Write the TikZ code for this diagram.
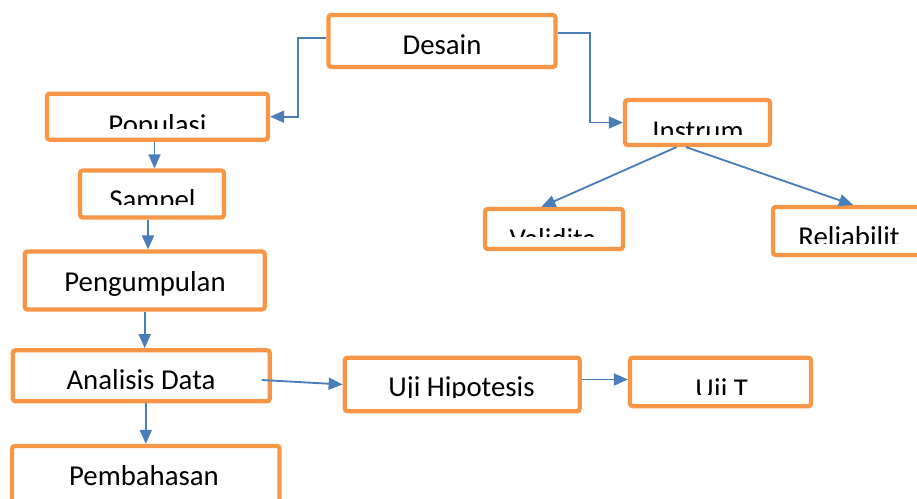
\documentclass[tikz,border=0pt]{standalone}
\usepackage{fontspec}
\setmainfont{Carlito}
\usetikzlibrary{arrows.meta}

\begin{document}
\begin{tikzpicture}[x=0.02cm, y=-0.02cm,
  box/.style={draw=colorBox, line width=2.4pt, rounded corners=1.5pt, fill=white},
  lbl/.style={font=\fontsize{16.4}{19}\selectfont, inner sep=0pt, anchor=base},
  arr/.style={draw=colorArrow, line width=1.05pt, -{Triangle[length=0.28cm,width=0.24cm]}}
    ]
    % Colori
    \definecolor{colorBox}{RGB}{247, 150, 70}
    \definecolor{colorArrow}{RGB}{74, 126, 187}

    \useasboundingbox (0,0) rectangle (917,499);

    % Blocchi
    \node[box, minimum width=4.54cm, minimum height=1.04cm] (desain) at (442,41) {};
    \node[lbl] (tdesain) at (442,55) {Desain};

    \node[box, minimum width=4.42cm, minimum height=0.92cm] (populasi) at (157.5,116.7) {};
    \node[box, minimum width=2.88cm, minimum height=0.94cm] (sampel) at (152,194) {};
    \node[box, minimum width=4.80cm, minimum height=1.16cm] (pengumpulan) at (144.7,280.5) {};
    \node[lbl] (tpengumpulan) at (145,291.7) {Pengumpulan};
    \node[box, minimum width=5.14cm, minimum height=1.02cm] (analisis) at (141.2,375.8) {};
    \node[lbl] (tanalisis) at (141,389.3) {Analisis Data};
    \node[box, minimum width=5.35cm, minimum height=1.28cm] (pembahasan) at (145.8,478) {};
    \node[lbl] (tpembahasan) at (144,486) {Pembahasan};

    \node[box, minimum width=4.70cm, minimum height=1.07cm] (ujihipo) at (462.2,384.5) {};
    \node[box, minimum width=3.62cm, minimum height=0.97cm] (ujit) at (720.5,382) {};

    \node[box, minimum width=2.90cm, minimum height=0.90cm] (instrum) at (697.5,122.5) {};
    \node[box, minimum width=2.76cm, minimum height=0.80cm] (validita) at (554,229) {};
    \node[box, minimum width=3.04cm, minimum height=0.96cm] (reliabilit) at (849,231) {};

    % Testi tagliati
    \begin{scope}
      \clip (47,94) rectangle (268,128.3);
      \node[lbl] (tpopulasi) at (157.5,134.3) {Populasi};
    \end{scope}
    \begin{scope}
      \clip (81,172) rectangle (224,205);
      \node[lbl] (tsampel) at (152.5,209.6) {Sampel};
    \end{scope}
    \begin{scope}
      \clip (345,358) rectangle (579,397.7);
      \node[lbl] (tujihipo) at (461.5,396.3) {Uji Hipotesis};
    \end{scope}
    \begin{scope}
      \clip (630,358) rectangle (811,395);
      \node[lbl] (tujit) at (721.7,398.6) {Uji T};
    \end{scope}
    \begin{scope}
      \clip (625,100) rectangle (770,134.3);
      \node[lbl] (tinstrum) at (698,140.3) {Instrum};
    \end{scope}
    \begin{scope}
      \clip (485,209) rectangle (623,236.7);
      \node[lbl] (tvalidita) at (553,248.6) {Validita};
    \end{scope}
    \begin{scope}
      \clip (773,207) rectangle (917,244);
      \node[lbl] (treliabilit) at (849,246.6) {Reliabilit};
    \end{scope}

    % Frecce
    \draw[arr] ([yshift=0.06cm]desain.west) -- ++(-28,0) |- (populasi.east);
    \draw[arr] ([yshift=0.154cm]desain.east) -- ++(32,0) |- (instrum.west);
    \draw[arr] ([xshift=0.05cm]sampel.north |- populasi.south) -- ([xshift=0.05cm]sampel.north);
    \draw[arr] ([xshift=-0.08cm]sampel.south) -- ([xshift=-0.08cm]sampel.south |- pengumpulan.north);
    \draw[arr] (pengumpulan.south) -- (pengumpulan.south |- analisis.north);
    \draw[arr] (pembahasan.north |- analisis.south) -- (pembahasan.north);
    \draw[arr] ([xshift=-0.2cm,yshift=-0.084cm]analisis.east) -- (ujihipo.west);
    \draw[arr] ([yshift=0.1cm]ujihipo.east) -- ([yshift=0.1cm]ujihipo.east -| ujit.west);
    \draw[arr] ([xshift=-0.42cm]instrum.south) -- ([xshift=-0.25cm]validita.north);
    \draw[arr] ([xshift=-0.23cm]instrum.south) -- ([xshift=0.08cm]reliabilit.north);
\end{tikzpicture}
\end{document}
